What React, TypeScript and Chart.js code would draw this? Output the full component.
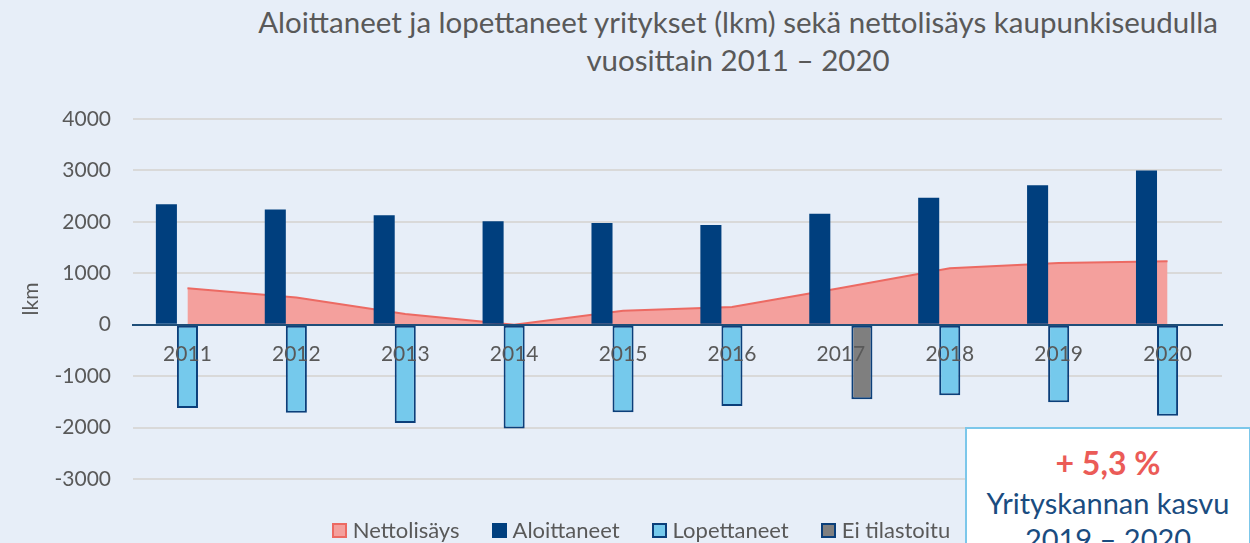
import React, { useEffect, useRef } from 'react';
import { Chart, registerables } from 'chart.js';

Chart.register(...registerables);

// ---- Data ----
const years = ['2011', '2012', '2013', '2014', '2015', '2016', '2017', '2018', '2019', '2020'];
const nettolisays = [710, 530, 210, 0, 270, 345, 715, 1100, 1200, 1235];
const aloittaneet = [2340, 2240, 2130, 2010, 1980, 1940, 2160, 2470, 2710, 3000];
const lopettaneet = [-1620, -1710, -1910, -2020, -1700, -1580, null, -1370, -1510, -1770];
const eiTilastoitu = [null, null, null, null, null, null, -1450, null, null, null];
const yTickValues = [-3000, -2000, -1000, 0, 1000, 2000, 3000, 4000];

const titleLines = [
  'Aloittaneet ja lopettaneet yritykset (lkm) sekä nettolisäys kaupunkiseudulla',
  'vuosittain 2011 – 2020',
];
const yAxisTitle = 'lkm';
const growthValue = '+ 5,3 %';
const growthLabel = 'Yrityskannan kasvu';
const growthPeriod = '2019 – 2020';

const seriesLabels = ['Nettolisäys', 'Aloittaneet', 'Lopettaneet', 'Ei tilastoitu'];

// ---- Styles ----
const BG = '#E7EEF8';
const NAVY = '#003F7E';
const NAVY_EDGE = '#0B3F7A';
const LIGHT = '#75C9EC';
const PINK = '#F4A09D';
const RED = '#EC6A63';
const GREY = '#7F7F7F';
const TEXT = '#595959';
const FONT = 'Lato, "Noto Sans", sans-serif';

const seriesFill = [PINK, NAVY, LIGHT, GREY];
const seriesEdge = [RED, NAVY, NAVY_EDGE, NAVY_EDGE];

export default function App() {
  const canvasRef = useRef<HTMLCanvasElement | null>(null);

  useEffect(() => {
    const canvas = canvasRef.current;
    if (!canvas) return;
    Chart.defaults.font.family = FONT;
    const chart = new Chart(canvas, {
      type: 'bar',
      data: {
        labels: years,
        datasets: [
          {
            type: 'line',
            label: seriesLabels[0],
            data: nettolisays,
            fill: 'origin',
            backgroundColor: PINK,
            borderColor: RED,
            borderWidth: 2,
            pointRadius: 0,
            tension: 0,
            order: 2,
          } as any,
          {
            type: 'bar',
            label: seriesLabels[1],
            data: aloittaneet,
            backgroundColor: NAVY,
            borderWidth: 0,
            order: 1,
          },
          {
            type: 'bar',
            label: seriesLabels[2],
            data: lopettaneet,
            backgroundColor: LIGHT,
            borderColor: NAVY_EDGE,
            borderWidth: 2,
            borderSkipped: false,
            order: 1,
          },
          {
            type: 'bar',
            label: seriesLabels[3],
            data: eiTilastoitu,
            backgroundColor: GREY,
            borderColor: NAVY_EDGE,
            borderWidth: 2,
            borderSkipped: false,
            order: 1,
          },
        ],
      },
      options: {
        animation: false,
        responsive: false,
        maintainAspectRatio: false,
        devicePixelRatio: 1,
        layout: { padding: { left: 15, right: 28, top: 119, bottom: 64 } },
        datasets: { bar: { categoryPercentage: 0.58, barPercentage: 1 } },
        plugins: {
          legend: { display: false },
          title: { display: false },
          tooltip: { enabled: false },
        },
        scales: {
          x: {
            position: { y: 0 } as any,
            offset: true,
            grid: { display: false, drawTicks: false },
            border: { display: true, color: '#1F4E79', width: 2, z: 1 } as any,
            ticks: { z: 1, padding: 17, color: TEXT, font: { size: 21 } },
          },
          y: {
            min: -3000,
            max: 4000,
            afterFit: (s: any) => {
              s.width = 118;
            },
            afterBuildTicks: (s: any) => {
              s.ticks = yTickValues.map((v) => ({ value: v }));
            },
            grid: {
              color: (ctx: any) => (ctx.tick && ctx.tick.value === 0 ? '#1F4E79' : '#D9D9D9'),
              lineWidth: 2,
              drawTicks: false,
            },
            border: { display: false },
            ticks: {
              padding: 22,
              color: TEXT,
              font: { size: 21 },
              callback: (v: any) => String(v),
            },
            title: {
              display: true,
              text: yAxisTitle,
              color: TEXT,
              font: { size: 21 },
              padding: { top: 4, bottom: 0 },
            },
          },
        },
      },
    });
    return () => chart.destroy();
  }, []);

  return (
    <div
      style={{
        position: 'fixed',
        left: 0,
        top: 0,
        width: 1250,
        height: 543,
        background: BG,
        overflow: 'hidden',
        fontFamily: FONT,
      }}
    >
      <div
        style={{
          position: 'absolute',
          left: 138,
          width: 1200,
          top: 3,
          textAlign: 'center',
          color: TEXT,
          fontSize: 29.5,
          lineHeight: '38px',
        }}
      >
        {titleLines.map((t) => (
          <div key={t}>{t}</div>
        ))}
      </div>
      <canvas
        ref={canvasRef}
        width={1250}
        height={543}
        style={{ position: 'absolute', left: 0, top: 0, width: 1250, height: 543 }}
      />
      <div
        style={{
          position: 'absolute',
          left: 241,
          width: 800,
          top: 517,
          display: 'flex',
          justifyContent: 'center',
          alignItems: 'center',
          gap: 32,
          color: TEXT,
          fontSize: 22,
          lineHeight: '26px',
        }}
      >
        {seriesLabels.map((l, i) => (
          <div key={l} style={{ display: 'flex', alignItems: 'center' }}>
            <span
              style={{
                display: 'inline-block',
                width: 11,
                height: 11,
                background: seriesFill[i],
                border: `2px solid ${seriesEdge[i]}`,
                marginRight: 6,
              }}
            />
            <span>{l}</span>
          </div>
        ))}
      </div>
      <div
        style={{
          position: 'absolute',
          left: 965,
          top: 427,
          width: 282,
          height: 200,
          background: '#FFFFFF',
          border: '2px solid #7CC7EA',
          textAlign: 'center',
        }}
      >
        <div
          style={{
            position: 'absolute',
            left: 0,
            right: 0,
            top: 16,
            color: '#EB5B57',
            fontWeight: 700,
            fontSize: 32,
            lineHeight: '36px',
          }}
        >
          {growthValue}
        </div>
        <div
          style={{
            position: 'absolute',
            left: 0,
            right: 0,
            top: 56,
            color: '#1A4C80',
            fontSize: 29,
            lineHeight: '36px',
          }}
        >
          <div>{growthLabel}</div>
          <div>{growthPeriod}</div>
        </div>
      </div>
    </div>
  );
}
